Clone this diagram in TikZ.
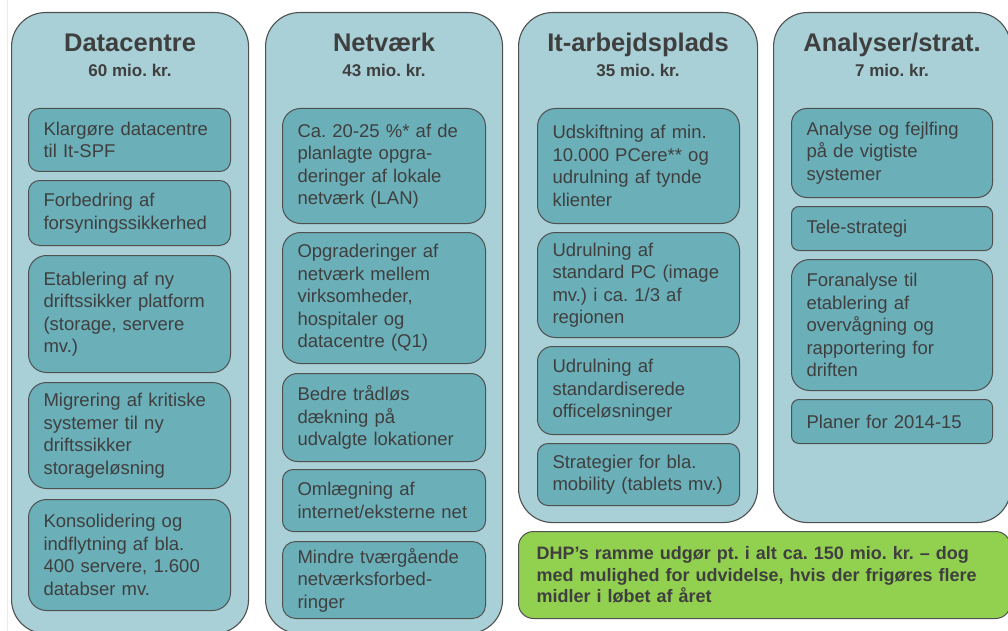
\documentclass[tikz,border=0pt]{standalone}
\usepackage{fontspec}
\setmainfont{Liberation Sans}
\definecolor{outerfill}{HTML}{A8D0D6}
\definecolor{innerfill}{HTML}{6BAFB8}
\definecolor{bordercol}{HTML}{505050}
\definecolor{txt}{HTML}{3F3F3F}
\definecolor{greenfill}{HTML}{92D050}
\newcommand\bx[6]{%
  \pgfmathsetmacro\bxr{min(#5*0.17,18)}%
  \pgfmathsetmacro\bxw{#4-30}%
  \node[itembox, rounded corners=\bxr pt, minimum width=#4pt, minimum height=#5pt, text width=\bxw pt] (#1) at (#2,#3) {#6};}
\newcommand\colbox[6]{%
  \node[colshape, minimum width=#4pt, minimum height=#5pt] (#1) at (#2,#3) {};
  \node[titletext] (#1t) at ($(#1.north)+(0,40)$) {#6};}
\usetikzlibrary{calc}
\begin{document}
\frenchspacing
\begin{tikzpicture}[x=1pt,y=-1pt,
  colshape/.style={draw=bordercol, line width=1.1pt, fill=outerfill, rounded corners=34pt, anchor=north west, inner sep=0pt},
  itembox/.style={draw=bordercol, line width=1pt, fill=innerfill, anchor=north west, inner xsep=15pt, inner ysep=0pt, align=left, text=txt, font=\fontsize{18.5}{22.5}\selectfont},
  titletext/.style={anchor=base, text=txt, font=\bfseries\fontsize{25.5}{25.5}\selectfont, inner sep=0pt},
  subtext/.style={anchor=base, text=txt, font=\bfseries\fontsize{17}{17}\selectfont, inner sep=0pt},
  greenbox/.style={draw=bordercol, line width=1pt, fill=greenfill, rounded corners=15pt, anchor=north west, inner xsep=18pt, inner ysep=0pt, align=left, text=txt, font=\bfseries\fontsize{18}{21.7}\selectfont}]
\clip (0,0) rectangle (1008,631);
\fill[white] (0,0) rectangle (1008,631);
\draw[black!8, line width=0.8pt] (7,0) -- (7,631);
% columns
\colbox{c1}{11}{12}{237}{621}{Datacentre}
\node[subtext] (c1s) at ($(c1.north)+(0,65)$) {60 mio. kr.};
\colbox{c2}{265}{12}{237}{621}{Netværk}
\node[subtext] (c2s) at ($(c2.north)+(0,65)$) {43 mio. kr.};
\colbox{c3}{518}{12}{239}{510}{It-arbejdsplads}
\node[subtext] (c3s) at ($(c3.north)+(0,65)$) {35 mio. kr.};
\colbox{c4}{773}{12}{237}{510}{Analyser/strat.}
\node[subtext] (c4s) at ($(c4.north)+(0,65)$) {7 mio. kr.};
% column 1
\bx{a1}{28}{108}{202}{63}{Klargøre datacentre\\til It-SPF}
\bx{a2}{28}{180}{202}{65}{Forbedring af\\forsyningssikkerhed}
\bx{a3}{28}{255}{202}{117}{Etablering af ny\\driftssikker platform\\(storage, servere\\mv.)}
\bx{a4}{28}{382}{202}{106}{Migrering af kritiske\\systemer til ny\\driftssikker\\storageløsning}
\bx{a5}{28}{499}{202}{111}{Konsolidering og\\indflytning af bla.\\400 servere, 1.600\\databser mv.}
% column 2
\bx{b1}{282}{108}{203}{115}{Ca. 20-25 \%* af de\\planlagte opgra-\\deringer af lokale\\netværk (LAN)}
\bx{b2}{282}{232}{203}{131}{Opgraderinger af\\netværk mellem\\virksomheder,\\hospitaler og\\datacentre (Q1)}
\bx{b3}{282}{373}{203}{88}{Bedre trådløs\\dækning på\\udvalgte lokationer}
\bx{b4}{282}{469}{203}{62}{Omlægning af\\internet/eksterne net}
\bx{b5}{282}{541}{203}{77}{Mindre tværgående\\netværksforbed-\\ringer}
% column 3
\bx{d1}{537}{108}{202}{115}{Udskiftning af min.\\10.000 PCere** og\\udrulning af tynde\\klienter}
\bx{d2}{537}{232}{202}{105}{Udrulning af\\standard PC (image\\mv.) i ca. 1/3 af\\regionen}
\bx{d3}{537}{346}{202}{88}{Udrulning af\\standardiserede\\officeløsninger}
\bx{d4}{537}{443}{202}{62}{Strategier for bla.\\mobility (tablets mv.)}
% column 4
\bx{e1}{791}{108}{201}{89}{Analyse og fejlfing\\på de vigtiste\\systemer}
\bx{e2}{791}{206}{201}{44}{Tele-strategi}
\bx{e3}{791}{259}{201}{131}{Foranalyse til\\etablering af\\overvågning og\\rapportering for\\driften}
\bx{e4}{791}{399}{201}{44}{Planer for 2014-15}
% green note
\node[greenbox, minimum width=492pt, minimum height=87pt, text width=456pt] (note) at (518,531) {DHP’s ramme udgør pt. i alt ca. 150 mio. kr. – dog\\med mulighed for udvidelse, hvis der frigøres flere\\midler i løbet af året};
\end{tikzpicture}
\end{document}
